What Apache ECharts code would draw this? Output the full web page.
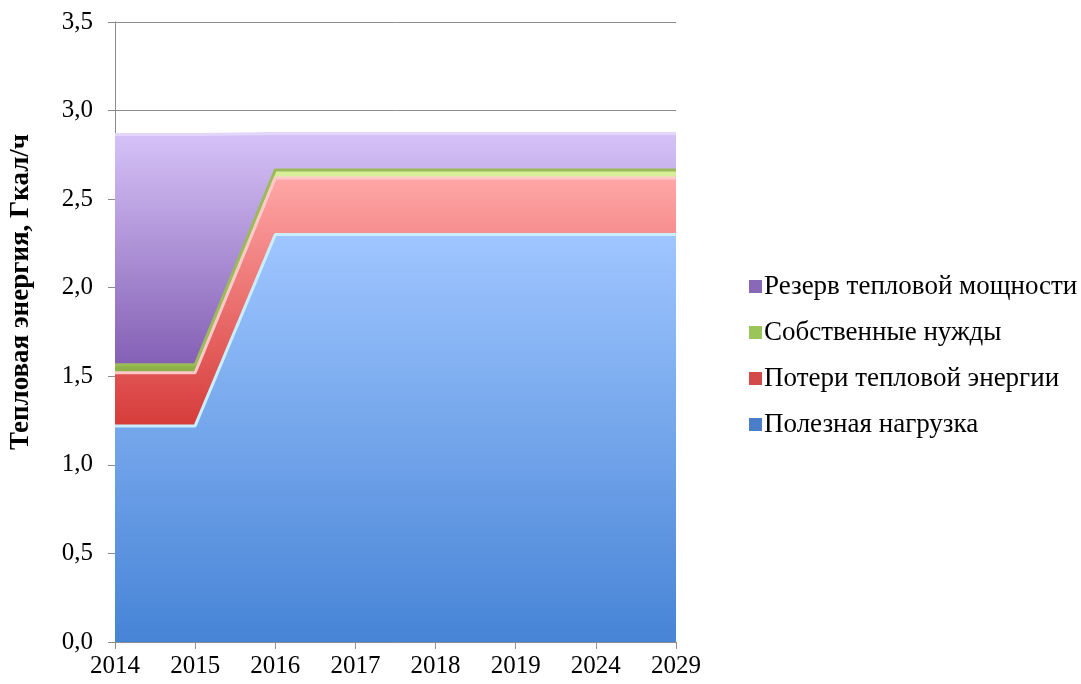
<!DOCTYPE html>
<html>
<head>
<meta charset="utf-8">
<script src="https://cdn.jsdelivr.net/npm/echarts@6/dist/echarts.min.js"></script>
<style>
  html, body { margin: 0; padding: 0; background: #fff; }
  #chart { width: 1081px; height: 684px; }
</style>
</head>
<body>
<div id="chart"></div>
<script>
// годы
var years = ['2014', '2015', '2016', '2017', '2018', '2019', '2024', '2029'];

// Гкал/ч
var usefulLoad = [1.22, 1.22, 2.30, 2.30, 2.30, 2.30, 2.30, 2.30];
var heatLosses = [0.30, 0.30, 0.32, 0.32, 0.32, 0.32, 0.32, 0.32];
var ownNeeds   = [0.045, 0.045, 0.045, 0.045, 0.045, 0.045, 0.045, 0.045];
var reserve    = [1.30, 1.30, 0.205, 0.205, 0.205, 0.205, 0.205, 0.205];

var names = ['Полезная нагрузка', 'Потери тепловой энергии', 'Собственные нужды', 'Резерв тепловой мощности'];

var fontFamily = '"Liberation Serif", "Times New Roman", serif';

function grad(top, bottom) {
  return new echarts.graphic.LinearGradient(0, 0, 0, 1, [
    { offset: 0, color: top },
    { offset: 1, color: bottom }
  ]);
}

function areaSeries(name, data, fill, edge, icon, z) {
  return {
    name: name,
    type: 'line',
    stack: 'total',
    data: data,
    symbol: 'none',
    z: z,
    itemStyle: { color: icon },
    lineStyle: { color: edge, width: 3 },
    areaStyle: { color: fill, opacity: 1 },
    emphasis: { disabled: true }
  };
}

var myChart = echarts.init(document.getElementById('chart'), null, { renderer: 'canvas' });

var option = {
  animation: false,
  grid: { left: 114, right: 405, top: 22, bottom: 42 },
  xAxis: {
    type: 'category',
    data: years,
    boundaryGap: false,
    axisLine: { lineStyle: { color: '#8c8c8c', width: 1 } },
    axisTick: { show: true, alignWithLabel: true, length: 7, lineStyle: { color: '#8c8c8c' } },
    axisLabel: { color: '#000', fontFamily: fontFamily, fontSize: 25, margin: 12 },
    splitLine: { show: false }
  },
  yAxis: {
    type: 'value',
    min: 0,
    max: 3.5,
    interval: 0.5,
    name: 'Тепловая энергия, Гкал/ч',
    nameLocation: 'middle',
    nameGap: 80,
    nameRotate: 90,
    nameTextStyle: {
      color: '#000', fontFamily: fontFamily, fontSize: 27, fontWeight: 'bold',
      padding: [0, 0, 0, 80]
    },
    axisLine: { show: true, lineStyle: { color: '#8c8c8c', width: 1 } },
    axisTick: { show: true, length: 7, lineStyle: { color: '#8c8c8c' } },
    axisLabel: {
      color: '#000', fontFamily: fontFamily, fontSize: 25, margin: 22,
      formatter: function (v) { return v.toFixed(1).replace('.', ','); }
    },
    splitLine: { show: true, lineStyle: { color: '#8c8c8c', width: 1 } }
  },
  legend: {
    orient: 'vertical',
    left: 744,
    top: 268,
    itemGap: 19,
    itemWidth: 13,
    itemHeight: 13,
    icon: 'rect',
    data: [names[3], names[2], names[1], names[0]],
    textStyle: { color: '#000', fontFamily: fontFamily, fontSize: 27, padding: [0, 0, 0, -3] }
  },
  series: [
    areaSeries(names[0], usefulLoad, grad('#9fc6ff', '#4784d6'), '#c9efff', '#4a7ec8', 4),
    areaSeries(names[1], heatLosses, grad('#ffa6a6', '#d63c3a'), '#ffc9c9', '#d24b48', 3),
    areaSeries(names[2], ownNeeds, grad('#d8ef9c', '#8cb048'), '#9bbb59', '#9bc55a', 2),
    areaSeries(names[3], reserve, grad('#d6c2f7', '#8460b5'), '#e4d6fb', '#8a68b8', 1)
  ]
};

myChart.setOption(option);
</script>
</body>
</html>
